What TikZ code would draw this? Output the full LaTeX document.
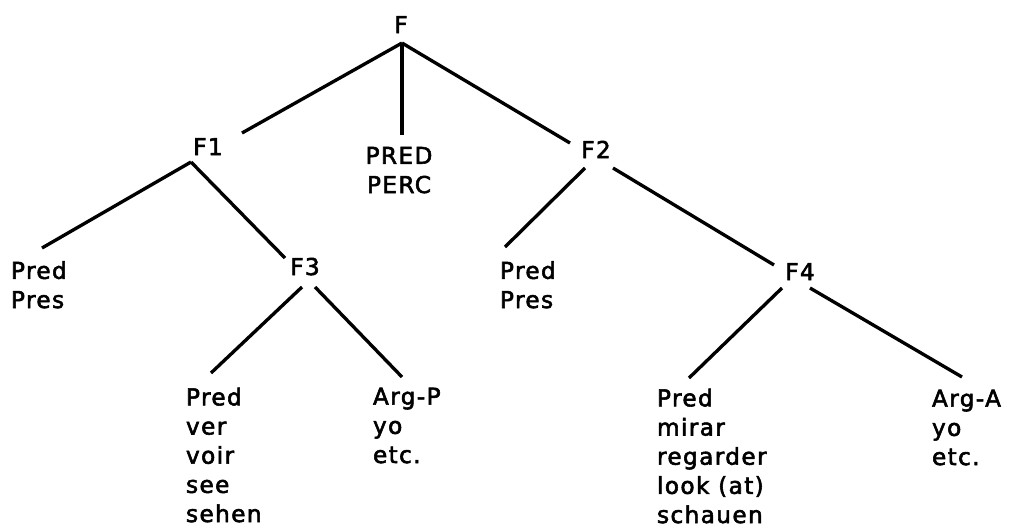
\documentclass[tikz,border=0pt]{standalone}
\usepackage{fontspec}
\setmainfont{DejaVu Sans}[LetterSpace=6,FakeBold=2.4]
\usetikzlibrary{calc}
\begin{document}
\begin{tikzpicture}[x=0.02cm,y=-0.02cm,
  lbl/.style={inner sep=0pt,outer sep=0pt,font=\fontsize{13.2}{16.6}\selectfont},
  stack/.style={lbl,align=left,anchor=base west},
  branch/.style={line width=1.9pt,black}]
\useasboundingbox[fill=white] (0,0) rectangle (1014,531);

% category labels (multi-line nodes sit on the baseline of their last line)
\node[lbl,anchor=base] (F)  at (401,33) {F};
\node[lbl,anchor=base] (F1) at (208,155) {F1};
\node[lbl,anchor=base,align=center] (PP) at (399,193) {PRED\\PERC};
\node[lbl,anchor=base] (F2) at (596,158) {F2};
\node[stack] (PresL) at (11,308) {Pred\\Pres};
\node[lbl,anchor=base] (F3) at (305,275) {F3};
\node[stack] (PresM) at (500,308) {Pred\\Pres};
\node[lbl,anchor=base] (F4) at (800,280) {F4};

% lexical leaves
\node[stack] (See)  at (186,522) {Pred\\ver\\voir\\see\\sehen};
\node[stack] (ArgP) at (373,463) {Arg-P\\yo\\etc.};
\node[stack] (Look) at (657,523) {Pred\\mirar\\regarder\\look (at)\\schauen};
\node[stack] (ArgA) at (932,465) {Arg-A\\yo\\etc.};

% branches
\draw[branch] ($(F.base)+(1,10)$) -- ($(F1.base)+(34,-22)$);
\draw[branch] ($(F.base)+(1,10)$) -- ($(PP.base)+(3,-58)$);
\draw[branch] ($(F.base)+(1,10)$) -- ($(F2.base)+(-26,-15)$);

\draw[branch] ($(F1.base)+(-17,7)$) -- ($(PresL.base west)+(31,-60)$);
\draw[branch] ($(F1.base)+(-17,7)$) -- ($(F3.base)+(-20,-17)$);

\draw[branch] ($(F2.base)+(-11,10)$) -- ($(PresM.base west)+(5,-61)$);
\draw[branch] ($(F2.base)+(17,10)$) -- ($(F4.base)+(-26,-15)$);

\draw[branch] ($(F3.base)+(-3,12)$) -- ($(See.base west)+(25,-149)$);
\draw[branch] ($(F3.base)+(10,12)$) -- ($(ArgP.base west)+(29,-86)$);

\draw[branch] ($(F4.base)+(-18,8)$) -- ($(Look.base west)+(32,-145)$);
\draw[branch] ($(F4.base)+(10,8)$) -- ($(ArgA.base west)+(30,-88)$);
\end{tikzpicture}
\end{document}
